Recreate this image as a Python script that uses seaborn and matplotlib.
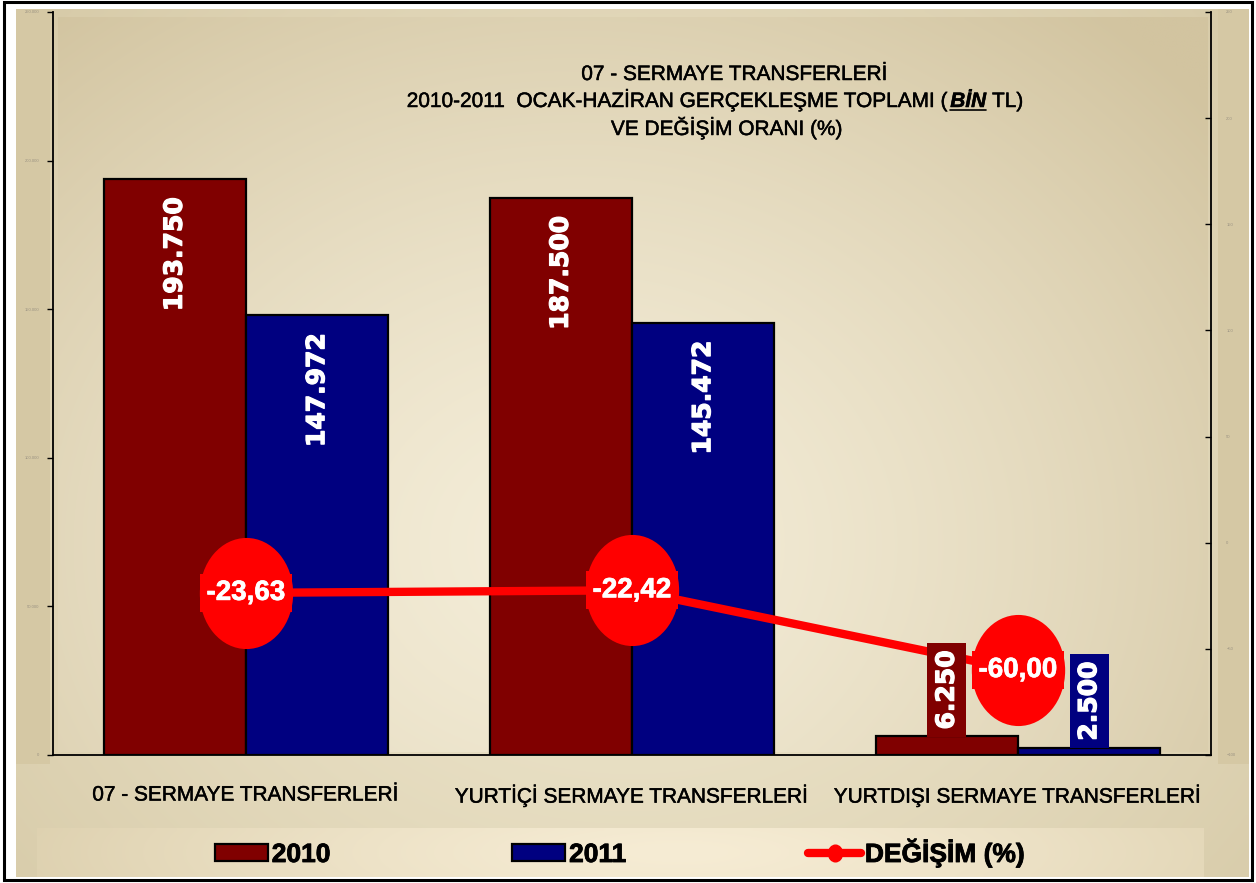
import numpy as np
import pandas as pd
import matplotlib
matplotlib.use('Agg')
import matplotlib.pyplot as plt
import matplotlib.patheffects as pe
import seaborn as sns
from matplotlib.path import Path
from matplotlib.patches import Rectangle, Patch
from matplotlib.lines import Line2D
from matplotlib.colors import to_rgb

# --- data ---
categories = ['07 - SERMAYE TRANSFERLERİ', 'YURTİÇİ SERMAYE TRANSFERLERİ', 'YURTDIŞI SERMAYE TRANSFERLERİ']
years = ['2010', '2011']
values_2010 = [193750, 187500, 6250]
values_2011 = [147972, 145472, 2500]
degisim = [-23.63, -22.42, -60.00]

colors = {'2010': '#800000', '2011': '#000080'}
red = '#ff0000'

df = pd.DataFrame({
    'kalem': categories * 2,
    'yil': [years[0]] * 3 + [years[1]] * 3,
    'deger': values_2010 + values_2011,
})

sns.set_style('white')
plt.rcParams['font.family'] = ['Liberation Sans', 'DejaVu Sans']
plt.rcParams['text.color'] = 'black'

W, H = 1256, 883
fig = plt.figure(figsize=(W / 100, H / 100), dpi=100)
fig.patch.set_facecolor('white')

medium_black = [pe.withStroke(linewidth=0.35, foreground='black')]
heavy_black = [pe.withStroke(linewidth=0.6, foreground='black')]
heavy_white = [pe.withStroke(linewidth=0.9, foreground='white')]
light_white = [pe.withStroke(linewidth=0.5, foreground='white')]


def rect(x0, y0, x1, y1):
    # pixel box -> figure fraction
    return [x0 / W, 1 - y1 / H, (x1 - x0) / W, (y1 - y0) / H]


def gradient(nx, ny, c_in, c_out, cx, cy, sx, sy, power=1.4):
    xx, yy = np.meshgrid(np.linspace(0, 1, nx), np.linspace(0, 1, ny))
    r = np.sqrt(((xx - cx) / sx) ** 2 + ((yy - cy) / sy) ** 2)
    t = np.clip(r, 0, 1)[..., None] ** power
    a, b = np.array(to_rgb(c_in)), np.array(to_rgb(c_out))
    return a * (1 - t) + b * t


# background layer in pixel coordinates
bg = fig.add_axes([0, 0, 1, 1], zorder=-10)
bg.set_axis_off()
bg.imshow(gradient(200, 140, '#eee6cd', '#d3c6a2', 0.5, 0.55, 0.75, 0.9),
          extent=(16, 1249, 877, 9), aspect='auto', interpolation='bilinear')
bg.imshow(gradient(200, 140, '#f4edd8', '#d2c4a0', 0.45, 0.72, 0.72, 0.95),
          extent=(58, 1208, 752, 17), aspect='auto', interpolation='bilinear')
bg.imshow(gradient(200, 10, '#f6ecd4', '#dccfad', 0.55, 0.5, 0.6, 3.0),
          extent=(37, 1204, 877, 828), aspect='auto', interpolation='bilinear')
bg.add_patch(Rectangle((16, 9), 34, 755, fc='#d5c8a4', ec='none'))
bg.add_patch(Rectangle((1218, 9), 31, 755, fc='#d5c8a4', ec='none'))
bg.add_patch(Rectangle((4, 2), W - 8, H - 5, fill=False, ec='black', lw=2.2))
bg.set_xlim(0, W)
bg.set_ylim(H, 0)

# --- main axes with bars ---
ax = fig.add_axes(rect(53, 12, 1211, 755))
ax.patch.set_visible(False)
sns.barplot(data=df, x='kalem', y='deger', hue='yil', palette=colors,
            width=0.738, saturation=1, edgecolor='black', linewidth=1.6,
            legend=False, ax=ax)
ax.set_ylim(0, 250000)
ax.set_yticks(range(0, 250001, 50000))
ax.set_yticklabels([f'{v:,}'.replace(',', '.') for v in range(0, 250001, 50000)])
ax.tick_params(axis='y', direction='out', length=4, width=1, color='black',
               labelsize=3, labelcolor='#9a9282', pad=6)
ax.set_xticks(range(len(categories)))
ax.set_xticklabels(categories, fontsize=15, color='black')
for t in ax.get_xticklabels():
    t.set_path_effects(medium_black)
ax.set_xticks([0.5, 1.5], minor=True)
ax.tick_params(axis='x', which='major', length=0, pad=22)
ax.tick_params(axis='x', which='minor', direction='out', length=9, width=1, color='black')
ax.set_xlabel('')
ax.set_ylabel('')
for s in ['left', 'bottom']:
    ax.spines[s].set_color('black')
    ax.spines[s].set_linewidth(1.3)
ax.spines['top'].set_visible(False)
ax.spines['right'].set_visible(False)

# --- secondary axis with change line ---
ax2 = ax.twinx()
circ = Path.unit_circle()
ellipse = Path(circ.vertices * np.array([0.84, 1.0]), circ.codes)
sns.lineplot(x=list(range(len(categories))), y=degisim, ax=ax2, color=red, lw=6,
             marker=ellipse, markersize=80, markeredgewidth=0, zorder=3)
ax2.set_ylim(-100, 250)
ax2.set_yticks(range(-100, 251, 50))
ax2.tick_params(axis='y', direction='in', length=4, width=1, color='black',
                labelsize=3, labelcolor='#9a9282', pad=11)
ax2.set_ylabel('')
ax2.spines['right'].set_color('black')
ax2.spines['right'].set_linewidth(1.3)
for s in ['top', 'left', 'bottom']:
    ax2.spines[s].set_visible(False)
ax.set_xlim(-0.5, 2.5)

for i, d in enumerate(degisim):
    ax2.text(i, d, f'{d:.2f}'.replace('.', ','), ha='center', va='center',
             color='white', fontsize=20, fontweight='bold', zorder=5,
             path_effects=light_white,
             bbox=dict(boxstyle='square,pad=0.22', fc=red, ec='none'))

# bar value labels (drawn on ax2 so they sit above the line)
for cont, vals, yr in zip(ax.containers, [values_2010, values_2011], years):
    for bar, v in zip(cont, vals):
        xc = bar.get_x() + bar.get_width() / 2
        h = bar.get_height()
        txt = f'{v:,}'.replace(',', '.')
        style = dict(xycoords=ax.transData, textcoords='offset points', rotation=90,
                     ha='center', color='white', fontsize=18, fontweight='bold',
                     family='DejaVu Sans', zorder=6, path_effects=heavy_white)
        if h / 250000 > 0.1:
            ax2.annotate(txt, xy=(xc, h), xytext=(0, -13), va='top', **style)
        else:
            ax2.annotate(txt, xy=(xc, h), xytext=(0, 5), va='bottom',
                         bbox=dict(boxstyle='square,pad=0.3', fc=colors[yr], ec='none'),
                         **style)

# --- title (three lines, "BİN" bold italic underlined) ---
r = fig.canvas.get_renderer()
tkw = dict(fontsize=15, color='black', va='baseline', ha='left', path_effects=medium_black)
fig.text(735 / W, 1 - 80 / H, '07 - SERMAYE TRANSFERLERİ', **{**tkw, 'ha': 'center'})
fig.text(727 / W, 1 - 135 / H, 'VE DEĞİŞİM ORANI (%)', **{**tkw, 'ha': 'center'})

parts = [('2010-2011  OCAK-HAZİRAN GERÇEKLEŞME TOPLAMI (', {}),
         ('BİN', {'fontweight': 'bold', 'fontstyle': 'italic'}),
         ('TL)', {})]
probe = fig.text(0, 0, 'a a', **tkw)
probe2 = fig.text(0, 0, 'aa', **tkw)
space_w = probe.get_window_extent(r).width - probe2.get_window_extent(r).width
probe.remove()
probe2.remove()
pieces = [fig.text(0, 1 - 107 / H, s, **{**tkw, **k}) for s, k in parts]
widths = [p.get_window_extent(r).width for p in pieces]
gaps = [0, 1, space_w]
x = 715 - (sum(widths) + space_w + 1) / 2
for p, w, g in zip(pieces, widths, gaps):
    x += g
    p.set_x(x / W)
    x += w
bb = pieces[1].get_window_extent(r)
fig.add_artist(Line2D([bb.x0 / W, bb.x1 / W], [(H - 109.5) / H] * 2, color='black', lw=1.2))

# --- legend ---
handles = [Patch(fc=colors['2010'], ec='black', lw=1.6, label='2010'),
           Patch(fc=colors['2011'], ec='black', lw=1.6, label='2011'),
           Line2D([], [], color=red, lw=6, marker=ellipse, markersize=12, label='DEĞİŞİM (%)')]
leg = fig.legend(handles=handles, loc='center left', bbox_to_anchor=(215 / W, 1 - 853 / H),
                 ncol=3, frameon=False, prop=dict(family='Liberation Sans', weight='bold', size=19),
                 handlelength=2.0, handleheight=0.62, handletextpad=0.15, columnspacing=6.9,
                 borderpad=0, borderaxespad=0, labelcolor='black')
for t in leg.get_texts():
    t.set_path_effects(heavy_black)

fig.savefig('out.png', dpi=100)
